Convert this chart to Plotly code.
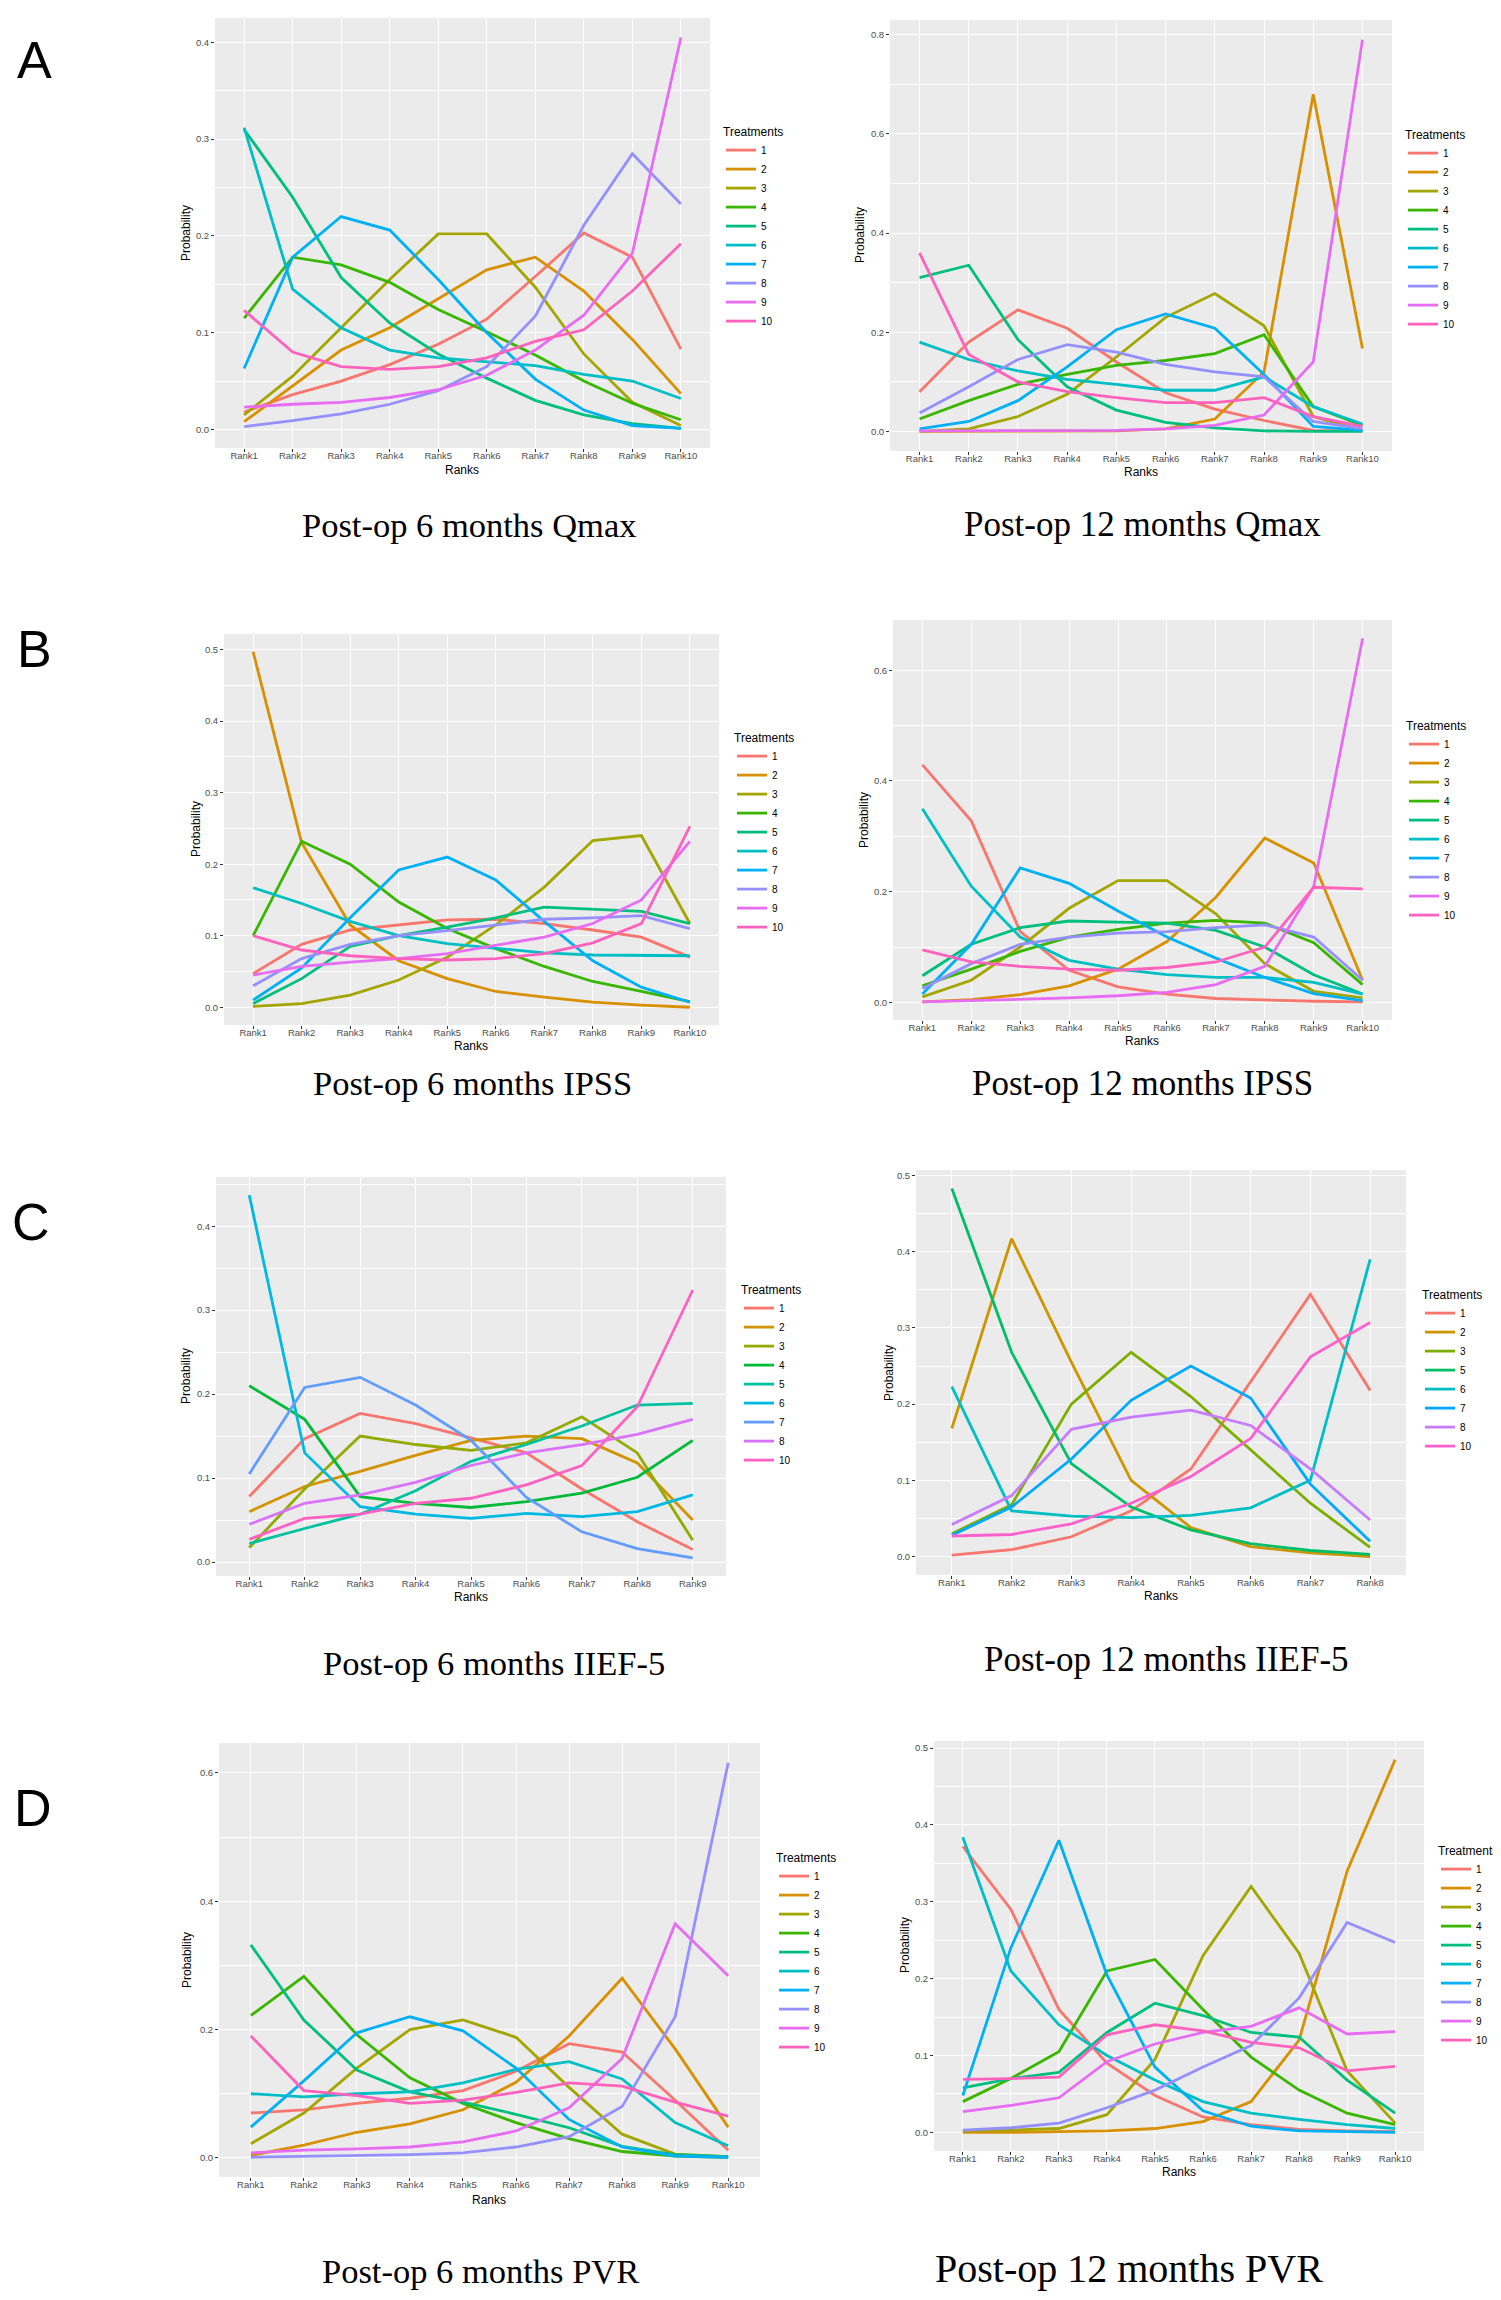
import plotly.graph_objects as go

W, H = 1501, 2300

# ---------------- data ----------------
ranks10 = ["Rank1", "Rank2", "Rank3", "Rank4", "Rank5", "Rank6", "Rank7", "Rank8", "Rank9", "Rank10"]
ranks9 = ["Rank1", "Rank2", "Rank3", "Rank4", "Rank5", "Rank6", "Rank7", "Rank8", "Rank9"]
ranks8 = ["Rank1", "Rank2", "Rank3", "Rank4", "Rank5", "Rank6", "Rank7", "Rank8"]

treat10 = ["1", "2", "3", "4", "5", "6", "7", "8", "9", "10"]
treat_iief6 = ["1", "2", "3", "4", "5", "6", "7", "8", "10"]
treat_iief12 = ["1", "2", "3", "5", "6", "7", "8", "10"]

# Post-op 6 months Qmax (rows = treatments 1..10)
qmax6 = [
    [0.018, 0.036, 0.050, 0.067, 0.088, 0.114, 0.158, 0.203, 0.178, 0.083],
    [0.008, 0.045, 0.082, 0.105, 0.135, 0.165, 0.178, 0.143, 0.093, 0.037],
    [0.015, 0.055, 0.105, 0.155, 0.202, 0.202, 0.147, 0.078, 0.028, 0.004],
    [0.115, 0.178, 0.170, 0.152, 0.124, 0.101, 0.077, 0.050, 0.027, 0.010],
    [0.310, 0.240, 0.157, 0.110, 0.078, 0.053, 0.030, 0.015, 0.006, 0.001],
    [0.312, 0.145, 0.105, 0.082, 0.074, 0.070, 0.066, 0.057, 0.050, 0.032],
    [0.063, 0.178, 0.220, 0.206, 0.155, 0.100, 0.052, 0.020, 0.004, 0.001],
    [0.003, 0.009, 0.016, 0.026, 0.040, 0.065, 0.117, 0.211, 0.285, 0.233],
    [0.023, 0.026, 0.028, 0.033, 0.041, 0.056, 0.082, 0.118, 0.182, 0.405],
    [0.123, 0.080, 0.065, 0.062, 0.065, 0.074, 0.091, 0.103, 0.143, 0.192],
]

# Post-op 12 months Qmax
qmax12 = [
    [0.080, 0.180, 0.245, 0.208, 0.140, 0.078, 0.045, 0.022, 0.002, 0.001],
    [0.000, 0.000, 0.000, 0.000, 0.001, 0.005, 0.025, 0.120, 0.680, 0.167],
    [0.000, 0.005, 0.030, 0.075, 0.150, 0.230, 0.278, 0.213, 0.030, 0.002],
    [0.025, 0.062, 0.095, 0.115, 0.133, 0.143, 0.157, 0.195, 0.050, 0.012],
    [0.310, 0.335, 0.185, 0.090, 0.043, 0.018, 0.007, 0.001, 0.000, 0.000],
    [0.180, 0.145, 0.122, 0.105, 0.095, 0.083, 0.083, 0.110, 0.050, 0.015],
    [0.005, 0.020, 0.062, 0.130, 0.205, 0.237, 0.208, 0.115, 0.010, 0.002],
    [0.037, 0.090, 0.145, 0.175, 0.160, 0.135, 0.120, 0.110, 0.020, 0.005],
    [0.001, 0.001, 0.001, 0.001, 0.002, 0.005, 0.012, 0.033, 0.140, 0.790],
    [0.360, 0.155, 0.100, 0.080, 0.068, 0.058, 0.058, 0.068, 0.030, 0.010],
]

# Post-op 6 months IPSS
ipss6 = [
    [0.047, 0.088, 0.108, 0.115, 0.122, 0.123, 0.117, 0.108, 0.098, 0.070],
    [0.497, 0.230, 0.115, 0.065, 0.040, 0.022, 0.014, 0.007, 0.003, 0.000],
    [0.001, 0.005, 0.017, 0.038, 0.070, 0.115, 0.168, 0.233, 0.240, 0.117],
    [0.100, 0.232, 0.200, 0.147, 0.110, 0.082, 0.057, 0.036, 0.022, 0.008],
    [0.005, 0.040, 0.085, 0.100, 0.112, 0.125, 0.140, 0.137, 0.134, 0.117],
    [0.167, 0.145, 0.120, 0.100, 0.089, 0.082, 0.076, 0.073, 0.072, 0.072],
    [0.010, 0.055, 0.125, 0.192, 0.210, 0.178, 0.120, 0.065, 0.028, 0.007],
    [0.030, 0.068, 0.088, 0.100, 0.107, 0.115, 0.123, 0.125, 0.128, 0.110],
    [0.045, 0.057, 0.063, 0.068, 0.075, 0.087, 0.098, 0.117, 0.150, 0.232],
    [0.100, 0.080, 0.072, 0.068, 0.066, 0.068, 0.075, 0.090, 0.117, 0.253],
]

# Post-op 12 months IPSS
ipss12 = [
    [0.429, 0.328, 0.128, 0.058, 0.028, 0.015, 0.007, 0.004, 0.002, 0.001],
    [0.001, 0.005, 0.014, 0.030, 0.060, 0.110, 0.190, 0.297, 0.252, 0.040],
    [0.010, 0.040, 0.100, 0.170, 0.220, 0.220, 0.160, 0.070, 0.020, 0.008],
    [0.030, 0.060, 0.092, 0.118, 0.132, 0.143, 0.148, 0.143, 0.108, 0.032],
    [0.048, 0.105, 0.135, 0.147, 0.145, 0.143, 0.130, 0.100, 0.050, 0.015],
    [0.350, 0.210, 0.118, 0.076, 0.060, 0.050, 0.045, 0.045, 0.036, 0.015],
    [0.015, 0.105, 0.243, 0.215, 0.165, 0.118, 0.080, 0.045, 0.016, 0.003],
    [0.025, 0.070, 0.105, 0.118, 0.125, 0.128, 0.135, 0.140, 0.118, 0.040],
    [0.001, 0.003, 0.005, 0.008, 0.012, 0.018, 0.032, 0.065, 0.209, 0.658],
    [0.095, 0.073, 0.065, 0.060, 0.058, 0.063, 0.073, 0.100, 0.208, 0.205],
]

# Post-op 6 months IIEF-5 (treatments 1,2,3,4,5,6,7,8,10)
iief6 = [
    [0.078, 0.147, 0.177, 0.165, 0.148, 0.130, 0.087, 0.048, 0.015],
    [0.060, 0.090, 0.108, 0.127, 0.145, 0.150, 0.147, 0.118, 0.050],
    [0.017, 0.087, 0.150, 0.140, 0.133, 0.142, 0.173, 0.130, 0.026],
    [0.210, 0.170, 0.078, 0.070, 0.065, 0.072, 0.082, 0.101, 0.145],
    [0.022, 0.040, 0.057, 0.085, 0.120, 0.140, 0.162, 0.187, 0.189],
    [0.437, 0.130, 0.066, 0.057, 0.052, 0.058, 0.054, 0.060, 0.080],
    [0.105, 0.208, 0.220, 0.187, 0.145, 0.077, 0.036, 0.016, 0.005],
    [0.045, 0.070, 0.080, 0.095, 0.115, 0.130, 0.140, 0.152, 0.170],
    [0.027, 0.052, 0.057, 0.070, 0.076, 0.092, 0.115, 0.185, 0.324],
]

# Post-op 12 months IIEF-5 (treatments 1,2,3,5,6,7,8,10)
iief12 = [
    [0.002, 0.009, 0.026, 0.060, 0.115, 0.230, 0.344, 0.218],
    [0.168, 0.417, 0.255, 0.100, 0.038, 0.013, 0.005, 0.000],
    [0.030, 0.068, 0.200, 0.268, 0.210, 0.140, 0.070, 0.012],
    [0.483, 0.268, 0.122, 0.065, 0.035, 0.017, 0.008, 0.003],
    [0.223, 0.060, 0.053, 0.051, 0.054, 0.064, 0.100, 0.390],
    [0.028, 0.065, 0.128, 0.205, 0.250, 0.208, 0.095, 0.020],
    [0.042, 0.080, 0.167, 0.183, 0.192, 0.172, 0.115, 0.048],
    [0.027, 0.029, 0.043, 0.070, 0.105, 0.155, 0.262, 0.307],
]

# Post-op 6 months PVR
pvr6 = [
    [0.070, 0.075, 0.085, 0.093, 0.105, 0.135, 0.178, 0.165, 0.090, 0.012],
    [0.004, 0.020, 0.040, 0.053, 0.075, 0.118, 0.190, 0.280, 0.170, 0.048],
    [0.022, 0.070, 0.140, 0.200, 0.215, 0.188, 0.110, 0.037, 0.006, 0.002],
    [0.222, 0.283, 0.192, 0.125, 0.085, 0.055, 0.030, 0.010, 0.003, 0.001],
    [0.332, 0.215, 0.137, 0.103, 0.087, 0.068, 0.047, 0.018, 0.005, 0.002],
    [0.100, 0.095, 0.100, 0.103, 0.117, 0.138, 0.150, 0.123, 0.055, 0.019],
    [0.048, 0.120, 0.195, 0.220, 0.198, 0.140, 0.060, 0.017, 0.003, 0.001],
    [0.001, 0.002, 0.003, 0.005, 0.008, 0.017, 0.033, 0.080, 0.220, 0.616],
    [0.008, 0.012, 0.014, 0.017, 0.025, 0.042, 0.078, 0.155, 0.365, 0.284],
    [0.190, 0.105, 0.097, 0.085, 0.090, 0.102, 0.117, 0.112, 0.087, 0.065],
]

# Post-op 12 months PVR
pvr12 = [
    [0.372, 0.290, 0.160, 0.090, 0.048, 0.020, 0.010, 0.004, 0.002, 0.001],
    [0.000, 0.000, 0.001, 0.002, 0.005, 0.014, 0.040, 0.120, 0.340, 0.485],
    [0.002, 0.003, 0.005, 0.023, 0.095, 0.230, 0.320, 0.233, 0.080, 0.012],
    [0.040, 0.070, 0.105, 0.210, 0.225, 0.160, 0.098, 0.055, 0.025, 0.010],
    [0.058, 0.070, 0.078, 0.130, 0.168, 0.152, 0.130, 0.124, 0.068, 0.025],
    [0.384, 0.210, 0.140, 0.100, 0.068, 0.040, 0.025, 0.017, 0.010, 0.005],
    [0.048, 0.240, 0.380, 0.205, 0.085, 0.028, 0.008, 0.002, 0.001, 0.000],
    [0.003, 0.006, 0.012, 0.032, 0.055, 0.085, 0.113, 0.175, 0.273, 0.247],
    [0.027, 0.035, 0.045, 0.092, 0.115, 0.130, 0.138, 0.162, 0.128, 0.131],
    [0.069, 0.070, 0.072, 0.127, 0.140, 0.132, 0.117, 0.110, 0.080, 0.086],
]

titles = ["Post-op 6 months Qmax", "Post-op 12 months Qmax",
          "Post-op 6 months IPSS", "Post-op 12 months IPSS",
          "Post-op 6 months IIEF-5", "Post-op 12 months IIEF-5",
          "Post-op 6 months PVR", "Post-op 12 months PVR"]
y_dticks = [0.1, 0.2, 0.1, 0.2, 0.1, 0.1, 0.2, 0.1]

# ---------------- styling ----------------
pal10 = ["#F8766D", "#D89000", "#A3A500", "#39B600", "#00BF7D",
         "#00BFC4", "#00B0F6", "#9590FF", "#E76BF3", "#FF62BC"]
pal9 = ["#F8766D", "#D39200", "#93AA00", "#00BA38", "#00C19F",
        "#00B9E3", "#619CFF", "#DB72FB", "#FF61C3"]
pal8 = ["#F8766D", "#CD9600", "#7CAE00", "#00BE67", "#00BFC4",
        "#00A9FF", "#C77CFF", "#FF61CC"]

panels = [
    (qmax6, ranks10, treat10, pal10),
    (qmax12, ranks10, treat10, pal10),
    (ipss6, ranks10, treat10, pal10),
    (ipss12, ranks10, treat10, pal10),
    (iief6, ranks9, treat_iief6, pal9),
    (iief12, ranks8, treat_iief12, pal8),
    (pvr6, ranks10, treat10, pal10),
    (pvr12, ranks10, treat10, pal10),
]

# panel boxes in pixels: x0, x1, ytop, ybottom
boxes = [
    (207, 702, 10, 440),
    (882, 1384, 12, 443),
    (216, 711, 626, 1017),
    (885, 1384, 612, 1012),
    (208, 718, 1169, 1568),
    (908, 1398, 1162, 1567),
    (211, 752, 1735, 2169),
    (926, 1416, 1733, 2143),
]
# legend top-left (px)
legend_pos = [(713, 112), (1395, 115), (724, 718), (1396, 706),
              (731, 1270), (1412, 1275), (766, 1838), (1428, 1831)]
# axis title positions (px)
prob_pos = [(178, 225), (852, 227), (188, 821), (856, 812),
            (178, 1368), (881, 1365), (179, 1952), (897, 1937)]
ranks_pos = [(454, 462), (1133, 464), (463, 1038), (1134, 1033),
             (463, 1589), (1153, 1588), (481, 2192), (1171, 2164)]
title_pos = [(461, 517), (1134, 517), (464, 1075), (1134, 1075),
             (486, 1655), (1158, 1651), (472, 2263), (1121, 2260)]
title_size = [34.5, 35, 34.5, 35, 34.5, 35, 34.5, 40]
letters = [("A", 26, 52), ("B", 26, 641), ("C", 23, 1214), ("D", 25, 1800)]

SANS = "Liberation Sans, Arial, sans-serif"
SERIF = "Liberation Serif, Times New Roman, serif"


def px_x(x):
    return x / W


def px_y(y):
    return 1 - y / H


fig = go.Figure()
layout = dict(
    width=W, height=H,
    margin=dict(l=0, r=0, t=0, b=0),
    paper_bgcolor="white",
    plot_bgcolor="#EBEBEB",
    font=dict(family=SANS, color="black"),
    showlegend=True,
)
annotations = []

for i, (data, ranks, treats, pal) in enumerate(panels):
    k = i + 1
    xa = "x" if k == 1 else f"x{k}"
    ya = "y" if k == 1 else f"y{k}"
    lg = "legend" if k == 1 else f"legend{k}"
    for t, vals, col in zip(treats, data, pal):
        fig.add_trace(go.Scatter(
            x=ranks, y=vals, mode="lines", name=t,
            line=dict(color=col, width=2.8),
            xaxis=xa, yaxis=ya, legend=lg, hoverinfo="x+y+name",
        ))
    flat = [v for row in data for v in row]
    lo, hi = min(flat), max(flat)
    pad = 0.05 * (hi - lo)
    x0, x1, yt, yb = boxes[i]
    n = len(ranks)
    xkey = "xaxis" if k == 1 else f"xaxis{k}"
    ykey = "yaxis" if k == 1 else f"yaxis{k}"
    layout[xkey] = dict(
        domain=[px_x(x0), px_x(x1)], anchor=ya,
        type="category", categoryorder="array", categoryarray=ranks,
        range=[-0.6, n - 1 + 0.6],
        showgrid=True, gridcolor="white", gridwidth=1.3,
        zeroline=False, showline=False,
        ticks="outside", ticklen=3, tickwidth=1, tickcolor="#333333",
        ticklabelstandoff=-4,
        tickfont=dict(size=9.5, color="#4D4D4D", family=SANS),
        fixedrange=True,
    )
    dt = y_dticks[i]
    layout[ykey] = dict(
        domain=[px_y(yb), px_y(yt)], anchor=xa,
        range=[lo - pad, hi + pad],
        tick0=0, dtick=dt, tickformat=".1f",
        showgrid=True, gridcolor="white", gridwidth=1.3,
        minor=dict(dtick=dt / 2, tick0=0, showgrid=True, gridcolor="white",
                   gridwidth=0.6, ticks=""),
        zeroline=False, showline=False,
        ticks="outside", ticklen=3, tickwidth=1, tickcolor="#333333",
        tickfont=dict(size=9.5, color="#4D4D4D", family=SANS),
        fixedrange=True,
    )
    lx, ly = legend_pos[i]
    layout[lg] = dict(
        x=px_x(lx), y=px_y(ly), xanchor="left", yanchor="top",
        xref="paper", yref="paper",
        title=dict(text="Treatments", font=dict(size=12, family=SANS, color="black")),
        font=dict(size=10, family=SANS, color="black"),
        bgcolor="rgba(0,0,0,0)", borderwidth=0,
        tracegroupgap=0, itemwidth=30,
    )
    px_, py_ = prob_pos[i]
    annotations.append(dict(
        text="Probability", x=px_x(px_), y=px_y(py_), xref="paper", yref="paper",
        showarrow=False, textangle=-90, font=dict(size=12, family=SANS, color="black"),
        xanchor="center", yanchor="middle"))
    rx, ry = ranks_pos[i]
    annotations.append(dict(
        text="Ranks", x=px_x(rx), y=px_y(ry), xref="paper", yref="paper",
        showarrow=False, font=dict(size=12, family=SANS, color="black"),
        xanchor="center", yanchor="middle"))
    tx, ty = title_pos[i]
    annotations.append(dict(
        text=titles[i], x=px_x(tx), y=px_y(ty), xref="paper", yref="paper",
        showarrow=False, font=dict(size=title_size[i], family=SERIF, color="black"),
        xanchor="center", yanchor="middle"))

for letter, lx, ly in letters:
    annotations.append(dict(
        text=letter, x=px_x(lx), y=px_y(ly), xref="paper", yref="paper",
        showarrow=False, font=dict(size=52, family=SANS, color="black"),
        xanchor="center", yanchor="middle"))

layout["annotations"] = annotations
fig.update_layout(**layout)
fig.write_html("out.html")
